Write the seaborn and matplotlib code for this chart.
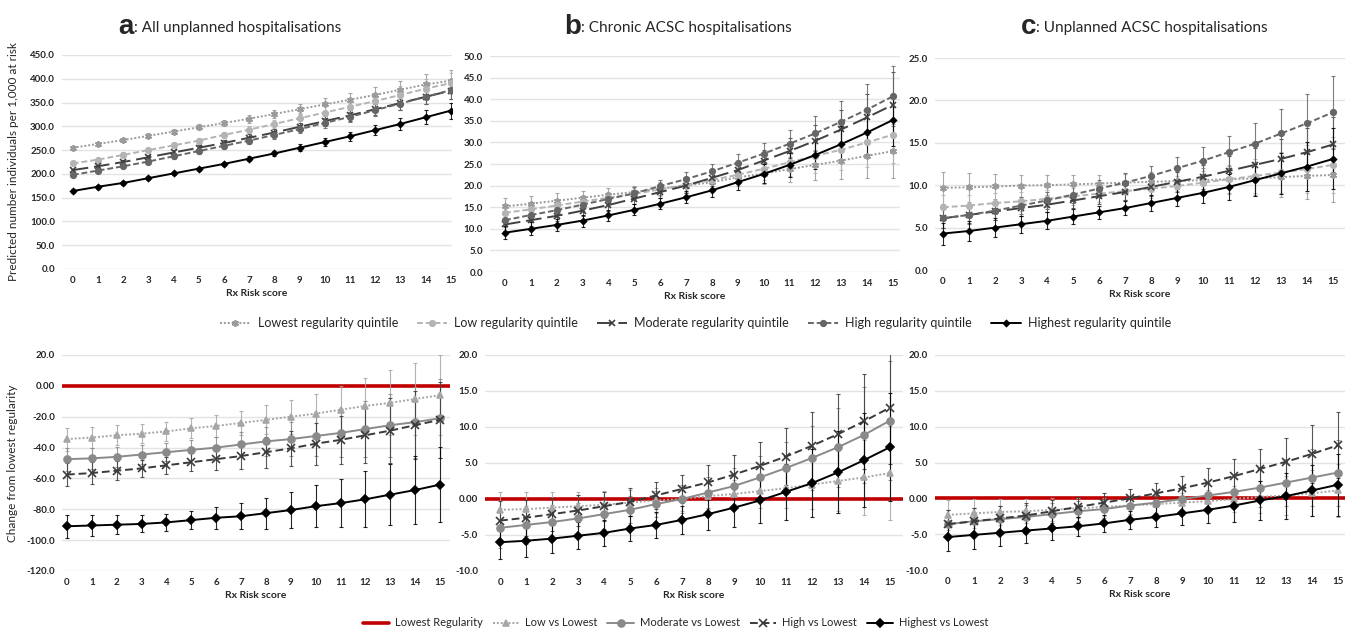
import numpy as np
import pandas as pd
import seaborn as sns
import matplotlib.pyplot as plt

risk = list(range(16))

# top row: predicted number per 1,000 at risk
a_lowest = [255, 263, 271, 280, 289, 298, 307, 316, 326, 336, 346, 356, 366, 377, 388, 396]
a_low = [222, 230, 240, 250, 260, 270, 282, 293, 305, 317, 329, 341, 353, 366, 379, 391]
a_moderate = [208, 216, 225, 235, 245, 255, 265, 276, 287, 299, 311, 323, 336, 349, 362, 375]
a_high = [198, 207, 216, 226, 237, 248, 259, 270, 282, 294, 307, 320, 334, 348, 362, 376]
a_highest = [164, 173, 181, 191, 201, 211, 221, 232, 243, 255, 267, 279, 292, 305, 319, 333]
a_lowest_err = [4, 4, 4, 5, 5, 6, 7, 8, 9, 11, 13, 15, 17, 19, 21, 22]
a_low_err = [4, 4, 5, 5, 6, 6, 7, 8, 9, 11, 13, 14, 16, 18, 20, 22]
a_moderate_err = [3, 3, 4, 4, 5, 5, 6, 7, 8, 9, 10, 11, 12, 14, 15, 17]
a_high_err = [4, 4, 4, 5, 5, 6, 6, 7, 8, 9, 10, 11, 13, 14, 16, 18]
a_highest_err = [4, 4, 4, 4, 4, 4, 4, 5, 6, 7, 8, 10, 11, 13, 15, 17]

b_lowest = [15.2, 15.8, 16.5, 17.2, 17.9, 18.5, 19.3, 20.0, 20.8, 21.9, 22.8, 23.8, 24.8, 25.8, 26.9, 28.0]
b_low = [13.7, 14.5, 15.4, 16.3, 17.2, 18.1, 19.1, 20.2, 21.3, 22.5, 23.9, 25.4, 26.9, 28.3, 30.0, 31.8]
b_moderate = [11.0, 12.0, 13.0, 14.2, 15.5, 17.0, 18.5, 20.0, 21.8, 23.6, 25.8, 28.0, 30.4, 33.0, 35.8, 38.7]
b_high = [12.0, 13.2, 14.3, 15.6, 16.9, 18.2, 19.9, 21.5, 23.3, 25.3, 27.4, 29.7, 32.1, 34.8, 37.6, 40.7]
b_highest = [9.1, 10.0, 10.9, 11.9, 13.1, 14.4, 15.8, 17.3, 18.9, 20.8, 22.7, 24.8, 27.1, 29.6, 32.3, 35.2]
b_lowest_err = [2.0, 1.8, 1.7, 1.6, 1.5, 1.5, 1.5, 1.6, 1.8, 2.0, 2.4, 2.9, 3.5, 4.3, 5.1, 6.2]
b_low_err = [1.8, 1.7, 1.6, 1.5, 1.4, 1.4, 1.5, 1.7, 1.9, 2.2, 2.7, 3.2, 3.9, 4.7, 5.6, 6.5]
b_moderate_err = [1.5, 1.4, 1.3, 1.3, 1.3, 1.3, 1.4, 1.6, 1.8, 2.1, 2.5, 3.0, 3.7, 4.5, 5.5, 7.5]
b_high_err = [1.6, 1.5, 1.5, 1.4, 1.4, 1.4, 1.5, 1.6, 1.8, 2.0, 2.5, 3.2, 4.0, 4.8, 5.9, 7.0]
b_highest_err = [1.5, 1.5, 1.4, 1.4, 1.3, 1.3, 1.3, 1.4, 1.5, 1.8, 2.2, 2.7, 3.3, 4.1, 5.0, 6.0]

c_lowest = [9.7, 9.75, 9.85, 9.95, 10.0, 10.1, 10.2, 10.3, 10.4, 10.5, 10.6, 10.7, 10.8, 10.95, 11.1, 11.2]
c_low = [7.4, 7.6, 7.9, 8.1, 8.4, 8.7, 9.0, 9.3, 9.6, 9.9, 10.3, 10.7, 11.1, 11.5, 11.9, 12.4]
c_moderate = [6.1, 6.5, 6.9, 7.3, 7.7, 8.2, 8.7, 9.2, 9.8, 10.4, 11.0, 11.7, 12.4, 13.1, 13.9, 14.8]
c_high = [6.1, 6.5, 7.0, 7.6, 8.2, 8.9, 9.6, 10.3, 11.1, 12.0, 12.9, 13.9, 14.9, 16.1, 17.3, 18.6]
c_highest = [4.3, 4.6, 5.0, 5.4, 5.8, 6.3, 6.8, 7.3, 7.9, 8.5, 9.1, 9.8, 10.6, 11.4, 12.2, 13.1]
c_lowest_err = [1.9, 1.7, 1.5, 1.3, 1.2, 1.1, 1.0, 1.0, 1.1, 1.2, 1.4, 1.6, 1.9, 2.3, 2.7, 3.2]
c_low_err = [1.5, 1.3, 1.2, 1.1, 1.0, 1.0, 1.0, 1.0, 1.1, 1.2, 1.4, 1.7, 2.0, 2.4, 2.8, 3.3]
c_moderate_err = [1.1, 1.0, 1.0, 0.9, 0.9, 0.9, 0.9, 1.0, 1.1, 1.2, 1.4, 1.7, 2.0, 2.4, 2.8, 3.3]
c_high_err = [1.2, 1.1, 1.1, 1.0, 1.0, 1.0, 1.0, 1.1, 1.2, 1.3, 1.6, 1.9, 2.4, 2.9, 3.5, 4.3]
c_highest_err = [1.3, 1.2, 1.1, 1.0, 1.0, 0.9, 0.8, 0.8, 0.9, 1.0, 1.2, 1.5, 1.9, 2.4, 2.9, 3.6]

# bottom row: change from lowest regularity
da_low = [-34.5, -33.5, -32, -31, -29.5, -27.5, -26, -24, -22, -20, -18, -15.5, -13, -11, -8.5, -6]
da_moderate = [-47.5, -47, -46, -44.5, -43, -41.5, -40, -38, -36, -34.5, -32.5, -30.5, -28, -25.5, -23.5, -21]
da_high = [-57.5, -56.5, -55, -53.5, -51.5, -49.5, -47.5, -45.5, -43, -40.5, -37.5, -35, -32, -29, -25.5, -22]
da_highest = [-91, -90.5, -90, -89.5, -88.5, -87, -85.5, -84.5, -82.5, -80.5, -78, -76, -73.5, -70.5, -67.5, -64]
da_low_err = [7.5, 7, 6.5, 6, 6, 6.5, 7, 8, 9.5, 11, 13, 15.5, 18, 21, 23.5, 26]
da_moderate_err = [7.5, 7, 6.5, 6, 6, 6.5, 7, 8, 9.5, 11, 13, 15.5, 18, 20.5, 23, 25.5]
da_high_err = [7.5, 7, 6, 5.5, 5.5, 6, 7, 8.5, 10, 11.5, 13.5, 15.5, 18, 21, 22, 24.5]
da_highest_err = [7.5, 7, 6, 5.5, 5.5, 6, 7, 8.5, 10, 11.5, 13.5, 15.5, 18, 20, 22, 24.5]

db_low = [-1.5, -1.4, -1.2, -1.0, -0.8, -0.5, -0.2, 0.0, 0.4, 0.7, 1.1, 1.5, 2.0, 2.5, 3.0, 3.6]
db_moderate = [-4.0, -3.6, -3.2, -2.7, -2.1, -1.5, -0.7, 0.0, 0.9, 1.8, 3.0, 4.3, 5.7, 7.2, 8.9, 10.9]
db_high = [-3.0, -2.6, -2.1, -1.6, -1.0, -0.4, 0.5, 1.4, 2.3, 3.4, 4.6, 5.9, 7.4, 9.0, 10.8, 12.7]
db_highest = [-6.0, -5.8, -5.5, -5.1, -4.7, -4.1, -3.6, -2.9, -2.1, -1.2, -0.2, 1.0, 2.2, 3.7, 5.4, 7.2]
db_low_err = [2.5, 2.4, 2.2, 2.0, 1.9, 1.8, 1.7, 1.7, 1.8, 2.0, 2.3, 2.8, 3.4, 4.2, 5.2, 6.5]
db_moderate_err = [2.8, 2.6, 2.4, 2.2, 2.0, 1.9, 1.8, 1.9, 2.1, 2.5, 3.0, 3.6, 4.5, 5.5, 6.7, 8.2]
db_high_err = [2.7, 2.5, 2.3, 2.1, 2.0, 1.9, 1.9, 2.0, 2.4, 2.7, 3.3, 4.0, 4.7, 5.6, 6.6, 7.8]
db_highest_err = [2.3, 2.2, 2.0, 1.9, 1.8, 1.8, 1.8, 1.9, 2.2, 2.7, 3.2, 3.9, 4.7, 5.7, 6.5, 7.5]

dc_low = [-2.3, -2.1, -1.9, -1.8, -1.6, -1.4, -1.2, -1.0, -0.8, -0.6, -0.4, -0.1, 0.2, 0.4, 0.7, 1.1]
dc_moderate = [-3.6, -3.2, -2.9, -2.6, -2.2, -1.8, -1.5, -1.0, -0.6, -0.1, 0.4, 0.9, 1.5, 2.2, 2.9, 3.6]
dc_high = [-3.6, -3.2, -2.8, -2.4, -1.8, -1.2, -0.6, 0.0, 0.7, 1.4, 2.2, 3.1, 4.1, 5.1, 6.2, 7.4]
dc_highest = [-5.4, -5.1, -4.8, -4.5, -4.2, -3.9, -3.5, -3.0, -2.6, -2.1, -1.6, -1.0, -0.3, 0.3, 1.1, 1.9]
dc_low_err = [2.1, 2.0, 1.8, 1.7, 1.6, 1.4, 1.3, 1.2, 1.2, 1.3, 1.5, 1.8, 2.2, 2.7, 3.2, 3.7]
dc_moderate_err = [2.0, 1.9, 1.8, 1.7, 1.6, 1.4, 1.3, 1.3, 1.4, 1.5, 1.8, 2.2, 2.7, 3.3, 4.0, 4.6]
dc_high_err = [2.0, 1.9, 1.8, 1.7, 1.6, 1.4, 1.3, 1.3, 1.5, 1.7, 2.0, 2.4, 2.8, 3.3, 4.0, 4.6]
dc_highest_err = [2.0, 1.9, 1.8, 1.7, 1.6, 1.3, 1.2, 1.3, 1.4, 1.6, 1.9, 2.3, 2.7, 3.2, 3.6, 4.3]

top_names = ["Lowest regularity quintile", "Low regularity quintile", "Moderate regularity quintile",
             "High regularity quintile", "Highest regularity quintile"]
bot_names = ["Low vs Lowest", "Moderate vs Lowest", "High vs Lowest", "Highest vs Lowest"]

sns.set_theme(style="white")
plt.rcParams['font.family'] = ['Lato', 'DejaVu Sans']

# styles: color, dashes, marker, markersize
top_styles = [
    ("#9a9a9a", (1, 1), (6, 2, 0), 5),
    ("#b4b4b4", (3, 1.5), "o", 4),
    ("#404040", (8, 3), "x", 4),
    ("#666666", (3, 1.5), "o", 4),
    ("#000000", None, "D", 3),
]
bot_styles = [
    ("#a6a6a6", (1, 1), "^", 5),
    ("#8a8a8a", None, "o", 5),
    ("#3a3a3a", (4, 2), "x", 6),
    ("#000000", None, "D", 4),
]

fig = plt.figure(figsize=(13.51, 6.30), dpi=100)
W, H = 1351, 630


def make_ax(left, right, top, bottom):
    return fig.add_axes([left / W, 1 - bottom / H, (right - left) / W, (bottom - top) / H])


def draw(ax, series, errs, styles, names):
    for vals, err, (col, dash, mk, ms), name in zip(series, errs, styles, names):
        ax.errorbar(risk, vals, yerr=err, fmt="none", ecolor=col, elinewidth=0.8,
                    capsize=1.5, capthick=0.8, alpha=0.85, zorder=2)
        kw = dict(color=col, marker=mk, markersize=ms, markeredgecolor=col,
                  markeredgewidth=1.2, linewidth=1.4, label=name, zorder=3)
        if dash is not None:
            kw["dashes"] = dash
        sns.lineplot(x=risk, y=vals, ax=ax, legend=False, **kw)


def style_ax(ax, ylim, step, zero_fmt=False):
    ax.set_ylim(*ylim)
    ticks = np.arange(ylim[0], ylim[1] + step / 2, step)
    ax.set_yticks(ticks)
    labs = []
    for t in ticks:
        if zero_fmt and abs(t) < 1e-9:
            labs.append("0.00")
        else:
            labs.append(f"{t:.1f}")
    ax.set_yticklabels(labs)
    ax.set_xticks(risk)
    ax.set_xticklabels([str(r) for r in risk])
    for sp in ax.spines.values():
        sp.set_visible(False)
    ax.yaxis.grid(True, color="#e3e3e3", linewidth=1.0)
    ax.set_axisbelow(True)
    ax.tick_params(axis="both", labelsize=7, length=0, pad=5)
    for lab in ax.get_xticklabels() + ax.get_yticklabels():
        lab.set_fontweight("bold")
    ax.set_xlabel("Rx Risk score", fontsize=7.5, fontweight="bold", labelpad=3)
    ax.set_ylabel("")


# top row
ax1 = make_ax(62, 452, 55, 269)
draw(ax1, [a_lowest, a_low, a_moderate, a_high, a_highest],
     [a_lowest_err, a_low_err, a_moderate_err, a_high_err, a_highest_err], top_styles, top_names)
style_ax(ax1, (0, 450), 50)
ax1.set_xlim(-0.43, 15.05)
ax1.set_ylabel("Predicted number individuals per 1,000 at risk", fontsize=8.5, labelpad=8)

ax2 = make_ax(490, 900, 56, 272)
draw(ax2, [b_lowest, b_low, b_moderate, b_high, b_highest],
     [b_lowest_err, b_low_err, b_moderate_err, b_high_err, b_highest_err], top_styles, top_names)
style_ax(ax2, (0, 50), 5)
ax2.set_xlim(-0.58, 15.27)

ax3 = make_ax(935, 1345, 58, 270)
draw(ax3, [c_lowest, c_low, c_moderate, c_high, c_highest],
     [c_lowest_err, c_low_err, c_moderate_err, c_high_err, c_highest_err], top_styles, top_names)
style_ax(ax3, (0, 25), 5)
ax3.set_xlim(-0.31, 15.46)

# bottom row
ax4 = make_ax(62, 450, 355, 571)
ax4.axhline(0, color="#c00000", linewidth=2.6, zorder=1, label="Lowest Regularity")
draw(ax4, [da_low, da_moderate, da_high, da_highest],
     [da_low_err, da_moderate_err, da_high_err, da_highest_err], bot_styles, bot_names)
style_ax(ax4, (-120, 20), 20, zero_fmt=True)
ax4.set_xlim(-0.2, 15.4)
ax4.set_ylabel("Change from lowest regularity", fontsize=8.5, labelpad=6)

ax5 = make_ax(485, 903, 355, 571)
ax5.axhline(0, color="#c00000", linewidth=2.6, zorder=1)
draw(ax5, [db_low, db_moderate, db_high, db_highest],
     [db_low_err, db_moderate_err, db_high_err, db_highest_err], bot_styles, bot_names)
style_ax(ax5, (-10, 20), 5, zero_fmt=True)
ax5.set_xlim(-0.58, 15.5)

ax6 = make_ax(935, 1345, 355, 570)
ax6.axhline(0, color="#c00000", linewidth=2.6, zorder=1)
draw(ax6, [dc_low, dc_moderate, dc_high, dc_highest],
     [dc_low_err, dc_moderate_err, dc_high_err, dc_highest_err], bot_styles, bot_names)
style_ax(ax6, (-10, 20), 5, zero_fmt=True)
ax6.set_xlim(-0.5, 15.27)

# panel titles
titles = [("a", ": All unplanned hospitalisations", 134),
          ("b", ": Chronic ACSC hospitalisations", 581),
          ("c", ": Unplanned ACSC hospitalisations", 1036)]
for letter, text, xpix in titles:
    fig.text(xpix / W, 1 - 27 / H, letter, ha="right", va="center", fontsize=20,
             fontweight="bold", family=["Liberation Sans", "DejaVu Sans"])
    fig.text(xpix / W, 1 - 28 / H, text, ha="left", va="center", fontsize=11)

# legends
h, l = ax1.get_legend_handles_labels()
fig.legend(h, l, loc="center", bbox_to_anchor=(0.515, 1 - 323 / H), ncol=5, frameon=False,
           fontsize=9, handlelength=2.4, columnspacing=1.5, handletextpad=0.6)
h, l = ax4.get_legend_handles_labels()
fig.legend(h, l, loc="center", bbox_to_anchor=(0.5, 1 - 623 / H), ncol=5, frameon=False,
           fontsize=8, handlelength=2.4, columnspacing=0.9, handletextpad=0.5)

fig.savefig("out.png", dpi=100)
